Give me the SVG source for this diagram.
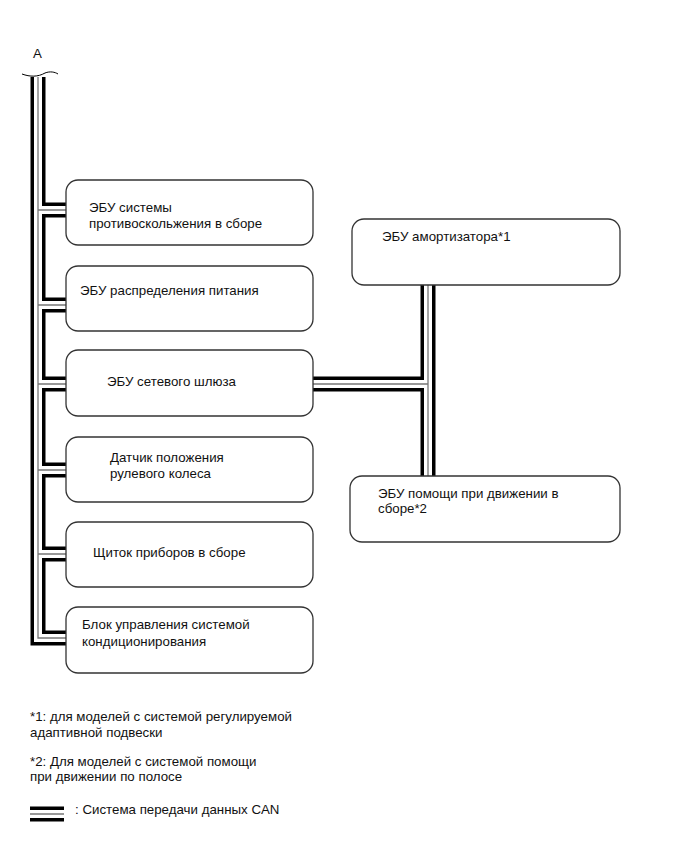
<svg xmlns="http://www.w3.org/2000/svg" width="690" height="854" viewBox="0 0 690 854">
<style>
text{font-family:"Liberation Sans",Arial,sans-serif;font-size:13.3px;fill:#111}
.box{fill:#fff;stroke:#333;stroke-width:1.3}
.b{fill:none;stroke:#000;stroke-width:15;stroke-linejoin:miter}
.w{fill:none;stroke:#fff;stroke-width:8;stroke-linejoin:miter}
.g{fill:none;stroke:#777;stroke-width:1.3;stroke-linejoin:miter}
</style>
<defs>
<g id="bus">
<path d="M38,77 V638 H66 M38,210 H66 M38,305 H66 M38,384 H66 M38,470 H66 M38,554 H66"/>
<path d="M428,285 V476 M313,384 H428"/>
</g>
</defs>
<g id="connectors">
<use href="#bus" class="b"/>
<use href="#bus" class="w"/>
<use href="#bus" class="g"/>
<rect x="20" y="60" width="42" height="16" fill="#fff"/>
<path d="M22,74 C30,77 38,77 45,73 C50,71 55,72 58,74" fill="none" stroke="#000" stroke-width="1"/>
</g>
<text x="33" y="58">A</text>
<g id="n1"><rect class="box" x="66" y="180" width="247" height="65" rx="12"/><text x="89" y="212">ЭБУ системы</text><text x="89" y="228">противоскольжения в сборе</text></g>
<g id="n2"><rect class="box" x="66" y="266" width="247" height="65" rx="12"/><text x="80" y="295">ЭБУ распределения питания</text></g>
<g id="n3"><rect class="box" x="66" y="350" width="247" height="66" rx="12"/><text x="107" y="386">ЭБУ сетевого шлюза</text></g>
<g id="n4"><rect class="box" x="66" y="437" width="247" height="65" rx="12"/><text x="110" y="462">Датчик положения</text><text x="110" y="478">рулевого колеса</text></g>
<g id="n5"><rect class="box" x="66" y="522" width="247" height="65" rx="12"/><text x="93" y="557">Щиток приборов в сборе</text></g>
<g id="n6"><rect class="box" x="66" y="607" width="247" height="66" rx="12"/><text x="82" y="629">Блок управления системой</text><text x="82" y="646">кондиционирования</text></g>
<g id="n7"><rect class="box" x="352" y="219" width="268" height="66" rx="12"/><text x="382" y="241">ЭБУ амортизатора*1</text></g>
<g id="n8"><rect class="box" x="350" y="476" width="270" height="66" rx="12"/><text x="378" y="498">ЭБУ помощи при движении в</text><text x="378" y="513">сборе*2</text></g>
<g id="notes">
<text x="30" y="721">*1: для моделей с системой регулируемой</text>
<text x="30" y="737">адаптивной подвески</text>
<text x="30" y="766">*2: Для моделей с системой помощи</text>
<text x="30" y="781">при движении по полосе</text>
<path d="M30,814 H64" class="b"/><path d="M30,814 H64" class="w"/><path d="M30,814 H64" class="g"/>
<text x="75" y="814">: Система передачи данных CAN</text>
</g>
</svg>
